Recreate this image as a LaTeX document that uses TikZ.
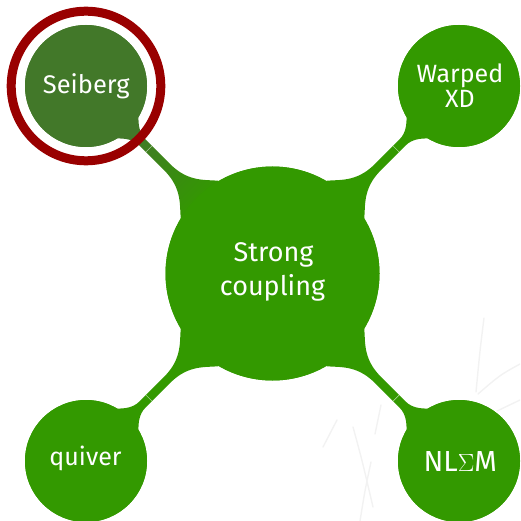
\documentclass[tikz,border=0pt]{standalone}
\usepackage{fontspec}
\setmainfont{Fira Sans}
\definecolor{mgreen}{RGB}{51,153,0}
\definecolor{sgreen}{RGB}{66,120,41}
\definecolor{ringred}{RGB}{153,0,0}
\newcommand\mmbar[3]{%
  \begin{scope}[shift={(#1.center)}, rotate=#2]
    \path[#3] (59.2,14.8) .. controls (64,10.5) and (70,4.3) .. (80,4.3)
      -- (115,4.3) .. controls (141,4.3) and (151,19) .. (160.9,26.8)
      -- (160.9,-26.8) .. controls (151,-19) and (141,-4.3) .. (115,-4.3)
      -- (80,-4.3) .. controls (70,-4.3) and (64,-10.5) .. (59.2,-14.8) -- cycle;
    \draw[white, line width=0.5pt, opacity=.7] (89,-4.3) -- (89,4.3);
  \end{scope}}
\begin{document}
\begin{tikzpicture}[x=1pt,y=-1pt,
  concept/.style={circle, fill=mgreen, draw=none, minimum size=122pt, inner sep=0pt},
  lbl/.style={text=white, inner sep=0pt, anchor=base},
  treeline/.style={draw=black!5, line width=1.4pt, line cap=round}]
\useasboundingbox (0,0) rectangle (520,521);
\clip (0,0) rectangle (520,521);
% faint background branches
\draw[treeline] (484,318) .. controls (480,350) .. (476,392);
\draw[treeline] (520,364) .. controls (500,375) .. (478,394);
\draw[treeline] (520,400) -- (497,411);
\draw[treeline] (381,405) .. controls (378,420) .. (375,434);
\draw[treeline] (337,420) -- (323,447);
\draw[treeline] (371,462) .. controls (365,490) .. (360,521);
\draw[treeline] (353,427) .. controls (362,460) .. (373,507);
% nodes
\node[concept, minimum size=214pt] (sc) at (272.5,273.5) {};
\node[concept, fill=sgreen] (sei) at (86,86) {};
\node[concept] (war) at (459,86) {};
\node[concept] (qui) at (86,461) {};
\node[concept] (nls) at (459,461) {};
% connectors
\mmbar{sei}{-45}{top color=sgreen, bottom color=mgreen, shading angle=45}
\mmbar{war}{-135}{fill=mgreen}
\mmbar{qui}{45}{fill=mgreen}
\mmbar{nls}{135}{fill=mgreen}
% circles again, over the connector bases
\fill[mgreen] (sc.center) circle (107pt);
\fill[sgreen] (sei.center) circle (61pt);
\fill[mgreen] (war.center) circle (61pt);
\fill[mgreen] (qui.center) circle (61pt);
\fill[mgreen] (nls.center) circle (61pt);
% highlight ring
\draw[ringred, line width=9pt] (sei.center) circle (74.8pt);
% labels
\node[lbl, font=\fontsize{25.5}{30}\selectfont] (tsei) at (86.3,93.3) {Seiberg};
\node[lbl, font=\fontsize{25}{30}\selectfont] (twar1) at (460,82.7) {Warped};
\node[lbl, font=\fontsize{25}{30}\selectfont] (twar2) at (460,107.3) {XD};
\node[lbl, font=\fontsize{27}{30}\selectfont] (tsc1) at (273.5,261.7) {Strong};
\node[lbl, font=\fontsize{27}{30}\selectfont] (tsc2) at (272.5,295) {coupling};
\node[lbl, font=\fontsize{25}{30}\selectfont] (tqui) at (85.5,465) {quiver};
\node[lbl, font=\fontsize{29}{30}\selectfont] (tnls) at (460.3,471.7) {NL$\Sigma$M};
\end{tikzpicture}
\end{document}
